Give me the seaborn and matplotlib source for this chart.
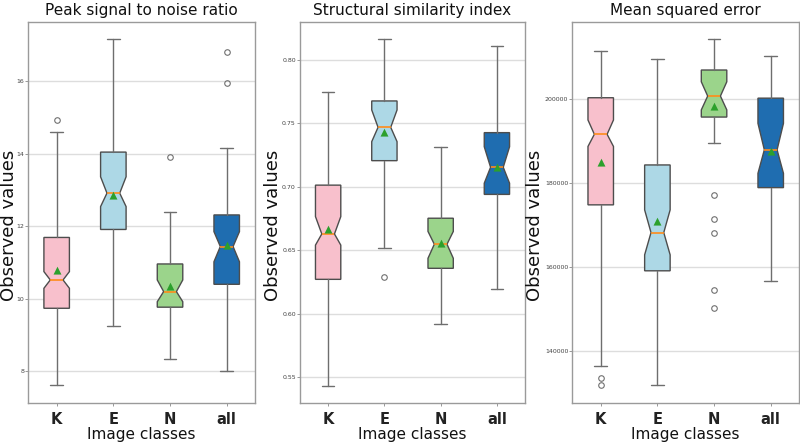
import numpy as np
import pandas as pd
import matplotlib
matplotlib.use("Agg")
import matplotlib.pyplot as plt
import seaborn as sns

# ---------------- data ----------------
classes = ["K", "E", "N", "all"]
box_colors = ["#f8c0cc", "#add8e6", "#9bd48b", "#1f6db0"]

titles = ["Peak signal to noise ratio", "Structural similarity index", "Mean squared error"]

# Peak signal to noise ratio
psnr_whislo = [7.62, 9.25, 8.34, 8.01]
psnr_q1 = [9.74, 11.91, 9.77, 10.40]
psnr_cilo = [10.29, 12.54, 9.92, 11.02]
psnr_med = [10.52, 12.91, 10.20, 11.44]
psnr_cihi = [10.75, 13.36, 10.52, 11.85]
psnr_q3 = [11.69, 14.04, 10.96, 12.31]
psnr_whishi = [14.60, 17.16, 12.39, 14.15]
psnr_mean = [10.76, 12.83, 10.33, 11.45]
psnr_fliers = [[14.91], [], [13.91], [15.94, 16.79]]

# Structural similarity index
ssim_whislo = [0.5431, 0.652, 0.5916, 0.6192]
ssim_q1 = [0.627, 0.7206, 0.6357, 0.694]
ssim_cilo = [0.654, 0.7356, 0.6436, 0.7028]
ssim_med = [0.6628, 0.7469, 0.6547, 0.7154]
ssim_cihi = [0.6765, 0.7606, 0.6648, 0.7316]
ssim_q3 = [0.7013, 0.7677, 0.6752, 0.7427]
ssim_whishi = [0.7745, 0.8166, 0.7316, 0.811]
ssim_mean = [0.6659, 0.7422, 0.6547, 0.715]
ssim_fliers = [[], [0.6286], [], []]

# Mean squared error
mse_whislo = [136400, 131800, 189500, 156600]
mse_q1 = [174700, 159000, 195600, 178800]
mse_cilo = [188600, 162800, 197300, 182200]
mse_med = [191500, 168100, 200600, 187800]
mse_cihi = [194900, 173500, 204000, 194100]
mse_q3 = [200200, 184200, 206800, 200100]
mse_whishi = [211400, 209500, 214200, 210200]
mse_mean = [184600, 170600, 197900, 187400]
mse_fliers = [[133600, 131800], [], [177000, 171400, 168000, 154400, 150200], []]

psnr_ticks = [8, 10, 12, 14, 16]
ssim_ticks = [0.55, 0.60, 0.65, 0.70, 0.75, 0.80]
mse_ticks = [140000, 160000, 180000, 200000]

# ---------------- style ----------------
sns.set_style("whitegrid")
plt.rcParams["font.family"] = ["DejaVu Sans"]

fig = plt.figure(figsize=(8, 4.42), dpi=100)

panels = [
    dict(whislo=psnr_whislo, q1=psnr_q1, cilo=psnr_cilo, med=psnr_med, cihi=psnr_cihi,
         q3=psnr_q3, whishi=psnr_whishi, mean=psnr_mean, fliers=psnr_fliers,
         ticks=psnr_ticks, fmt="{:.0f}", ylim=(7.14, 17.63),
         rect=[0.0354, 0.0889, 0.2834, 0.862], ylab_x=-0.0476),
    dict(whislo=ssim_whislo, q1=ssim_q1, cilo=ssim_cilo, med=ssim_med, cihi=ssim_cihi,
         q3=ssim_q3, whishi=ssim_whishi, mean=ssim_mean, fliers=ssim_fliers,
         ticks=ssim_ticks, fmt="{:.2f}", ylim=(0.5297, 0.8302),
         rect=[0.375, 0.0889, 0.2813, 0.862], ylab_x=-0.082),
    dict(whislo=mse_whislo, q1=mse_q1, cilo=mse_cilo, med=mse_med, cihi=mse_cihi,
         q3=mse_q3, whishi=mse_whishi, mean=mse_mean, fliers=mse_fliers,
         ticks=mse_ticks, fmt="{:.0f}", ylim=(127600, 218300),
         rect=[0.7155, 0.0889, 0.2833, 0.862], ylab_x=-0.125),
]

for p, title in zip(panels, titles):
    ax = fig.add_axes(p["rect"])
    stats = []
    for i, c in enumerate(classes):
        stats.append(dict(label=c, whislo=p["whislo"][i], q1=p["q1"][i], med=p["med"][i],
                          q3=p["q3"][i], whishi=p["whishi"][i], cilo=p["cilo"][i],
                          cihi=p["cihi"][i], mean=p["mean"][i],
                          fliers=np.array(p["fliers"][i], dtype=float)))
    bp = ax.bxp(stats, positions=range(len(classes)), widths=0.45, shownotches=True,
                showmeans=False, patch_artist=True, manage_ticks=False,
                boxprops=dict(edgecolor="#4d4d4d", linewidth=1.0),
                whiskerprops=dict(color="#6e6e6e", linewidth=1.0),
                capprops=dict(color="#6e6e6e", linewidth=1.0),
                medianprops=dict(color="#ff8c1a", linewidth=1.2),
                flierprops=dict(marker="o", markerfacecolor="none",
                                markeredgecolor="#707070", markersize=4,
                                markeredgewidth=0.8))
    for patch, col in zip(bp["boxes"], box_colors):
        patch.set_facecolor(col)

    df = pd.DataFrame({"cls": classes, "mean": p["mean"]})
    sns.pointplot(data=df, x="cls", y="mean", order=classes, linestyle="none",
                  marker="^", color="#2ca02c", markersize=2.4, errorbar=None,
                  ax=ax, zorder=5)

    ax.set_xlim(-0.5, len(classes) - 0.5)
    ax.set_ylim(*p["ylim"])
    ax.set_yticks(p["ticks"])
    ax.set_yticklabels([p["fmt"].format(t) for t in p["ticks"]], fontsize=4.5, color="#444444")
    ax.set_xticks(range(len(classes)))
    ax.set_xticklabels(classes, fontsize=10.5, fontweight="bold", color="#222222")
    ax.grid(axis="y", color="#dddddd", linewidth=1.0)
    ax.xaxis.grid(False)
    for s in ax.spines.values():
        s.set_color("#9a9a9a")
        s.set_linewidth(1.0)
        s.set_visible(True)
    ax.tick_params(axis="y", left=True, length=2, width=0.6, color="#888888", pad=1)
    ax.tick_params(axis="x", bottom=True, length=2.5, width=0.6, color="#888888", pad=4)
    ax.set_title(title, fontsize=11, pad=5, color="#111111")
    ax.set_xlabel("Image classes", fontsize=11, labelpad=0, color="#111111")
    ax.set_ylabel("Observed values", fontsize=13, color="#111111")
    ax.yaxis.set_label_coords(p["ylab_x"], 0.466)

fig.savefig("out.png", dpi=100)
